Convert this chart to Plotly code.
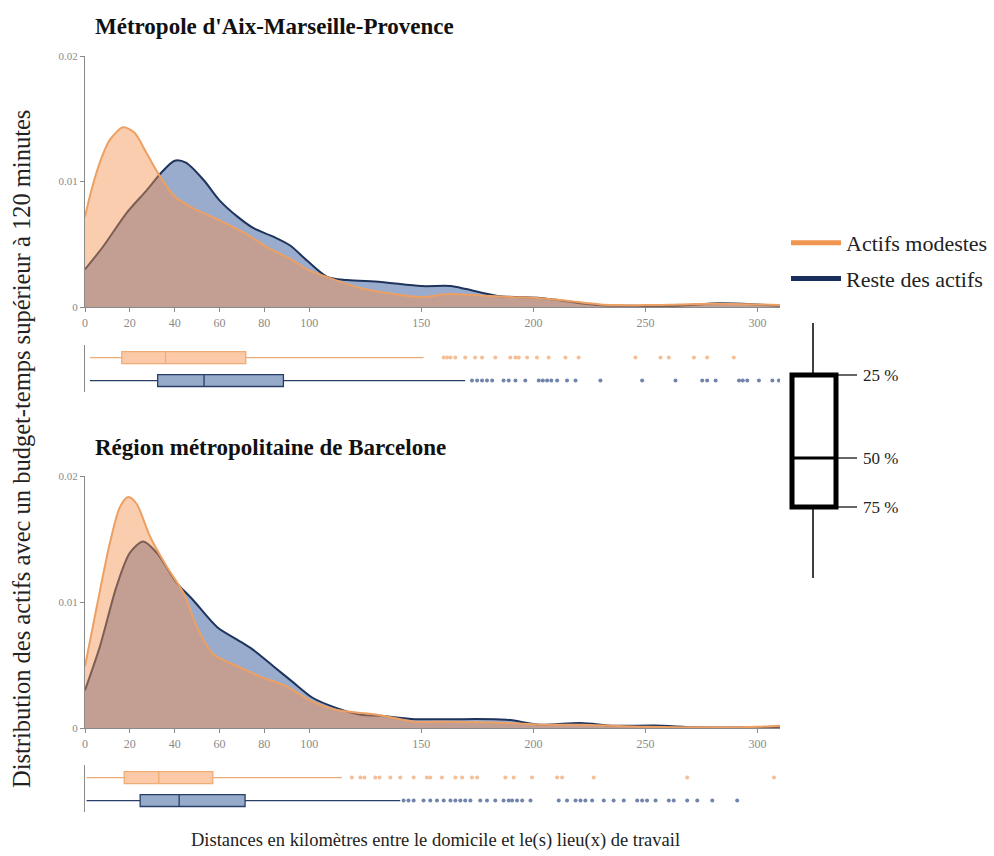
import plotly.graph_objects as go

# ---------------- DATA ----------------
xticks = [0, 20, 40, 60, 80, 100, 150, 200, 250, 300]
yticks = [0, 0.01, 0.02]
ytick_labels = ["0", "0.01", "0.02"]

# Density curves - Aix-Marseille-Provence
aix_mod_x = [0, 3, 7, 11, 17, 22, 27.5, 33.5, 40, 48, 60, 71, 81, 93, 99, 111, 123, 132, 150, 162, 178, 190, 203, 215, 230, 250, 265, 280, 300, 310]
aix_mod_y = [0.0072, 0.0094, 0.0117, 0.0133, 0.01432, 0.0139, 0.01225, 0.0104, 0.0088, 0.0079, 0.0069, 0.0059, 0.0048, 0.0037, 0.0030, 0.0022, 0.0015, 0.0012, 0.0008, 0.00104, 0.0009, 0.0008, 0.0007, 0.0005, 0.0002, 0.00015, 0.0002, 0.00025, 0.0002, 0.00015]
aix_rest_x = [0, 8, 18.6, 27.5, 34, 40, 45, 53, 60, 68, 75, 84, 91.5, 99, 108, 117, 132, 150, 163, 170, 184, 203, 213, 228, 243, 265, 283, 300, 310]
aix_rest_y = [0.0030, 0.0048, 0.0075, 0.0093, 0.0107, 0.01166, 0.0115, 0.0101, 0.0085, 0.0072, 0.0063, 0.0056, 0.0049, 0.0037, 0.0024, 0.00215, 0.0020, 0.00167, 0.00167, 0.00143, 0.00088, 0.00072, 0.0005, 0.00016, 0.0001, 0.0001, 0.0003, 0.0002, 0.0001]

# Density curves - Barcelona
bcn_mod_x = [0, 5, 11, 15.6, 19.3, 23, 29, 36.5, 44, 50, 57, 68, 78, 90, 100, 112, 123, 132, 147, 162, 188, 203, 221, 250, 280, 300, 310]
bcn_mod_y = [0.0049, 0.0094, 0.0146, 0.01755, 0.01834, 0.0178, 0.0152, 0.0128, 0.0107, 0.0080, 0.0059, 0.0049, 0.0041, 0.0033, 0.00224, 0.00145, 0.0012, 0.0010, 0.0005, 0.0005, 0.0004, 0.00026, 0.00026, 0.0001, 0.00005, 0.0001, 0.00018]
bcn_rest_x = [0, 6.7, 14, 20, 26, 32, 41, 48, 59, 68, 75, 84, 93, 101.5, 112, 123, 132, 147, 162, 188, 203, 221, 236, 254, 273, 295, 310]
bcn_rest_y = [0.0030, 0.0065, 0.0112, 0.0139, 0.0148, 0.0139, 0.0115, 0.0102, 0.0080, 0.0070, 0.0062, 0.0049, 0.0036, 0.0024, 0.0016, 0.00105, 0.00097, 0.0007, 0.0007, 0.00066, 0.00026, 0.0004, 0.00018, 0.0002, 0.00005, 0.00005, 0.00005]

# Box statistics: [lowerfence, q1, median, q3, upperfence]
aix_mod_box = [2.2, 16.4, 35.9, 71.7, 151]
aix_rest_box = [2.2, 32.4, 53.1, 88.5, 169.6]
bcn_mod_box = [0.7, 17.5, 32.9, 57.0, 114.6]
bcn_rest_box = [0.7, 24.6, 42.0, 71.4, 140.6]

# Outliers
aix_mod_out = [160, 161.5, 163, 165.2, 169.6, 174, 177.1, 183, 189.7, 192, 193.5, 197.2, 201.6, 206.8, 214.3, 220.2, 245.5, 256.7, 260.4, 271.6, 277.5, 289.4]
aix_rest_out = [172.6, 174.9, 177.1, 179.3, 181.6, 186.7, 189, 192, 196.4, 202.4, 204.2, 206.1, 208, 210.6, 215, 218.8, 229.9, 248.5, 263.4, 275.3, 277.5, 281.3, 291.7, 293.4, 295.4, 300.6, 306.6, 309.5]
bcn_mod_out = [119, 122.8, 124.6, 129.5, 131.4, 136.2, 140.6, 146.6, 152.5, 154, 159.2, 165.2, 168.2, 172.6, 174.9, 187.5, 191.2, 199.4, 210.6, 212.8, 226.9, 268.6, 307.3]
bcn_rest_out = [142.1, 144.3, 146.6, 151, 154, 157, 160, 163, 165.2, 167.4, 169.6, 171.9, 176.3, 179.3, 183, 186.7, 189, 190.5, 192.7, 195, 198.7, 211.3, 215, 218.8, 221, 223.2, 226.2, 231.4, 235.8, 240.3, 246.3, 248.5, 250.7, 254.5, 260.4, 262.6, 268.6, 273.1, 279.8, 290.9]

series_names = ["Actifs modestes", "Reste des actifs"]
panel_titles = ["Métropole d'Aix-Marseille-Provence", "Région métropolitaine de Barcelone"]
key_labels = ["25 %", "50 %", "75 %"]

# ---------------- STYLE ----------------
FONT = "Liberation Serif"
OR_LINE = "rgb(236,160,100)"
OR_FILL = "rgba(245,145,75,0.45)"
BL_LINE = "rgb(30,52,92)"
BL_FILL = "rgba(35,75,145,0.46)"
OR_BOX_FILL = "rgb(252,202,168)"
OR_BOX_LINE = "rgb(238,172,118)"
BL_BOX_FILL = "rgb(150,170,202)"
BL_BOX_LINE = "rgb(40,62,105)"
OR_PT = "rgb(244,190,150)"
BL_PT = "rgb(112,132,172)"
AXC = "#8a8a8a"

W, H = 994, 856
def px(x): return x / W
def py(y): return 1 - y / H

fig = go.Figure()

def density(xs, ys, line, fill, xa, ya):
    fig.add_trace(go.Scatter(x=xs, y=ys, mode="lines", line=dict(color=line, width=2, shape="spline", smoothing=0.8),
                             fill="tozeroy", fillcolor=fill, showlegend=False, xaxis=xa, yaxis=ya, hoverinfo="skip"))

def box(stats, pos, fillc, linec, xa, ya):
    lf, q1, med, q3, uf = stats
    fig.add_trace(go.Box(y=[pos], q1=[q1], median=[med], q3=[q3], lowerfence=[lf], upperfence=[uf],
                         orientation="h", fillcolor=fillc, line=dict(color=linec, width=1.3), whiskerwidth=0,
                         width=0.52, boxpoints=False, showlegend=False, xaxis=xa, yaxis=ya))

def outliers(vals, pos, color, xa, ya):
    fig.add_trace(go.Scatter(x=vals, y=[pos] * len(vals), mode="markers", marker=dict(color=color, size=4),
                             showlegend=False, xaxis=xa, yaxis=ya, hoverinfo="skip"))

# Top panel
density(aix_rest_x, aix_rest_y, BL_LINE, BL_FILL, "x", "y")
density(aix_mod_x, aix_mod_y, OR_LINE, OR_FILL, "x", "y")
box(aix_mod_box, 1, OR_BOX_FILL, OR_BOX_LINE, "x2", "y2")
box(aix_rest_box, 0, BL_BOX_FILL, BL_BOX_LINE, "x2", "y2")
outliers(aix_mod_out, 1, OR_PT, "x2", "y2")
outliers(aix_rest_out, 0, BL_PT, "x2", "y2")

# Bottom panel
density(bcn_rest_x, bcn_rest_y, BL_LINE, BL_FILL, "x3", "y3")
density(bcn_mod_x, bcn_mod_y, OR_LINE, OR_FILL, "x3", "y3")
box(bcn_mod_box, 1, OR_BOX_FILL, OR_BOX_LINE, "x4", "y4")
box(bcn_rest_box, 0, BL_BOX_FILL, BL_BOX_LINE, "x4", "y4")
outliers(bcn_mod_out, 1, OR_PT, "x4", "y4")
outliers(bcn_rest_out, 0, BL_PT, "x4", "y4")

# Legend entries
for name, col in zip(series_names, ["rgb(240,150,80)", "rgb(25,45,95)"]):
    fig.add_trace(go.Scatter(x=[None], y=[None], mode="lines", name=name, legendgroup=name,
                             line=dict(color=col, width=5), xaxis="x", yaxis="y"))

xdom = [px(85), px(780)]
dens_x = dict(domain=xdom, range=[0, 310], tickvals=xticks, ticks="outside", ticklen=4, tickcolor=AXC,
              showline=True, linecolor=AXC, linewidth=1.2, showgrid=False, zeroline=False, automargin=False,
              tickfont=dict(family=FONT, size=12, color="#8a8a8a"))
dens_y = dict(range=[0, 0.02], tickvals=yticks, ticktext=ytick_labels, ticks="outside", ticklen=4, tickcolor=AXC,
              showline=True, linecolor=AXC, linewidth=1.2, showgrid=False, zeroline=False, automargin=False,
              tickfont=dict(family=FONT, size=11, color="#8a8a8a"))
box_x = dict(domain=xdom, range=[0, 310], visible=False, showgrid=False, zeroline=False, automargin=False)
box_y = dict(range=[-0.5, 1.55], showline=True, linecolor=AXC, linewidth=1.2, showticklabels=False,
             ticks="", showgrid=False, zeroline=False, automargin=False)

layout = dict(
    width=W, height=H, margin=dict(l=0, r=0, t=0, b=0, pad=0, autoexpand=False),
    paper_bgcolor="white", plot_bgcolor="white",
    font=dict(family=FONT, color="#222"),
    xaxis=dict(dens_x, anchor="y"),
    yaxis=dict(dens_y, domain=[py(307), py(56)], anchor="x"),
    xaxis2=dict(box_x, anchor="y2"),
    yaxis2=dict(box_y, domain=[py(392), py(345)], anchor="x2"),
    xaxis3=dict(dens_x, anchor="y3"),
    yaxis3=dict(dens_y, domain=[py(728), py(476)], anchor="x3"),
    xaxis4=dict(box_x, anchor="y4"),
    yaxis4=dict(box_y, domain=[py(812), py(765)], anchor="x4"),
    legend=dict(x=px(786), y=py(222), xanchor="left", yanchor="top", font=dict(family=FONT, size=22, color="#222"),
                tracegroupgap=4, itemwidth=50, bgcolor="rgba(0,0,0,0)"),
    showlegend=True,
)
fig.update_layout(**layout)

ann = []
ann.append(dict(x=px(93), y=py(27), xref="paper", yref="paper", text="<b>" + panel_titles[0] + "</b>", showarrow=False,
                xanchor="left", yanchor="middle", font=dict(family=FONT, size=23, color="#111")))
ann.append(dict(x=px(93), y=py(447), xref="paper", yref="paper", text="<b>" + panel_titles[1] + "</b>", showarrow=False,
                xanchor="left", yanchor="middle", font=dict(family=FONT, size=23, color="#111")))
ann.append(dict(x=px(435), y=py(840), xref="paper", yref="paper",
                text="Distances en kilomètres entre le domicile et le(s) lieu(x) de travail", showarrow=False,
                xanchor="center", yanchor="middle", font=dict(family=FONT, size=18.5, color="#222")))
ann.append(dict(x=px(21), y=py(449), xref="paper", yref="paper",
                text="Distribution des actifs avec un budget-temps supérieur à 120 minutes", showarrow=False,
                textangle=-90, xanchor="center", yanchor="middle", font=dict(family=FONT, size=24.5, color="#222")))
for lab, yy in zip(key_labels, [375, 458, 507]):
    ann.append(dict(x=px(861), y=py(yy), xref="paper", yref="paper", text=lab, showarrow=False,
                    xanchor="left", yanchor="middle", font=dict(family=FONT, size=17, color="#222")))
fig.update_layout(annotations=ann)

# Box key diagram (explanatory legend)
shapes = []
def pl(x0, y0, x1, y1, w):
    shapes.append(dict(type="line", xref="paper", yref="paper", x0=px(x0), y0=py(y0), x1=px(x1), y1=py(y1),
                       line=dict(color="black", width=w)))
pl(813, 323, 813, 375, 1.5)
pl(813, 507, 813, 578, 1.5)
shapes.append(dict(type="rect", xref="paper", yref="paper", x0=px(792), y0=py(507), x1=px(836), y1=py(375),
                   line=dict(color="black", width=5), fillcolor="white"))
pl(792, 458, 836, 458, 3)
pl(838, 375, 857, 375, 1.2)
pl(838, 458, 857, 458, 1.2)
pl(838, 507, 857, 507, 1.2)
fig.update_layout(shapes=shapes)

fig.write_html("out.html", config={"displayModeBar": False},
               post_script="document.body.style.margin='0';document.body.style.padding='0';"
                           "document.documentElement.style.overflow='hidden';")
